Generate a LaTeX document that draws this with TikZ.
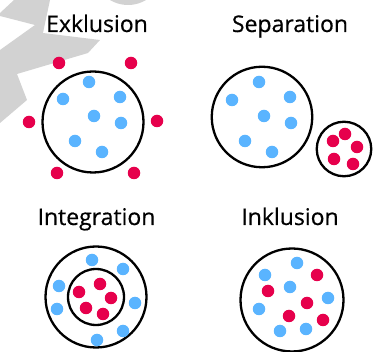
\documentclass[tikz,border=0pt]{standalone}
\usepackage{fontspec}
\setmainfont{Open Sans}
\newfontfamily\ttlfont[FakeBold=0.5]{Open Sans}
\definecolor{dotblue}{RGB}{90,180,255}
\definecolor{dotred}{RGB}{230,0,76}
\definecolor{wmgray}{RGB}{210,210,210}
\begin{document}
\begin{tikzpicture}[x=1pt,y=-1pt,
  ring/.style={circle, draw=black, line width=2.3pt, inner sep=0pt, minimum size=#1},
  bdot/.style={circle, fill=dotblue, inner sep=0pt, minimum size=12.5pt},
  rdot/.style={circle, fill=dotred, inner sep=0pt, minimum size=12.5pt},
  ttl/.style={font=\ttlfont\fontsize{23}{27}\selectfont, anchor=base, text=black}]
\useasboundingbox (0,0) rectangle (375,352);
% watermark fragments
\fill[wmgray] (14,0) -- (50,0) -- (43,33) -- (100,40) -- (88,53) -- (17,74) -- (27,100)
  -- (0,123) -- (0,50) -- (35,25) -- (0,16) -- (0,13) -- cycle;
\begin{scope}
\clip (0,0) rectangle (375,352);
\fill[wmgray] (128,-30) circle (35);
\end{scope}
% Exklusion
\node[ttl] (tex) at (97,32) {Exklusion};
\node[ring=101pt] (cex) at (93,122) {};
\foreach \n/\x/\y in {1/89/82, 2/63/99, 3/120/97, 4/94/116, 5/121/123, 6/75/141, 7/102/152}
  \node[bdot] (exb\n) at (\x,\y) {};
\foreach \n/\x/\y in {1/59/63, 2/131/63, 3/29/122, 4/157/121, 5/57/173, 6/134/173}
  \node[rdot] (exr\n) at (\x,\y) {};
% Separation
\node[ttl] (tsep) at (290,32) {Separation};
\node[ring=100.5pt] (csepa) at (262,117) {};
\node[ring=54.5pt] (csepb) at (344,149) {};
\foreach \n/\x/\y in {1/259/82, 2/232/100, 3/290/97, 4/264/116, 5/291/123, 6/245/141, 7/272/152}
  \node[bdot] (seb\n) at (\x,\y) {};
\foreach \n/\x/\y in {1/345/134, 2/333/141, 3/357/147, 4/334/159, 5/353/164}
  \node[rdot] (ser\n) at (\x,\y) {};
% Integration
\node[ttl] (tint) at (96.5,225) {Integration};
\node[ring=101pt] (cinta) at (96,297) {};
\node[ring=56pt] (cintb) at (96,297) {};
\foreach \n/\x/\y in {1/92/260, 2/123/269, 3/59/286, 4/135/303, 5/57/309, 6/123/331, 7/97/340}
  \node[bdot] (inb\n) at (\x,\y) {};
\foreach \n/\x/\y in {1/100/284, 2/79/292, 3/111/298, 4/86/308, 5/103/314}
  \node[rdot] (inr\n) at (\x,\y) {};
% Inklusion
\node[ttl] (tink) at (290,225) {Inklusion};
\node[ring=103pt] (cink) at (292,300) {};
\foreach \n/\x/\y in {1/297/263, 2/265/275, 3/290/287, 4/328/298, 5/259/309, 6/280/331, 7/306/329}
  \node[bdot] (ikb\n) at (\x,\y) {};
\foreach \n/\x/\y in {1/317/275, 2/268/291, 3/307/303, 4/289/316, 5/323/320}
  \node[rdot] (ikr\n) at (\x,\y) {};
\end{tikzpicture}
\end{document}
